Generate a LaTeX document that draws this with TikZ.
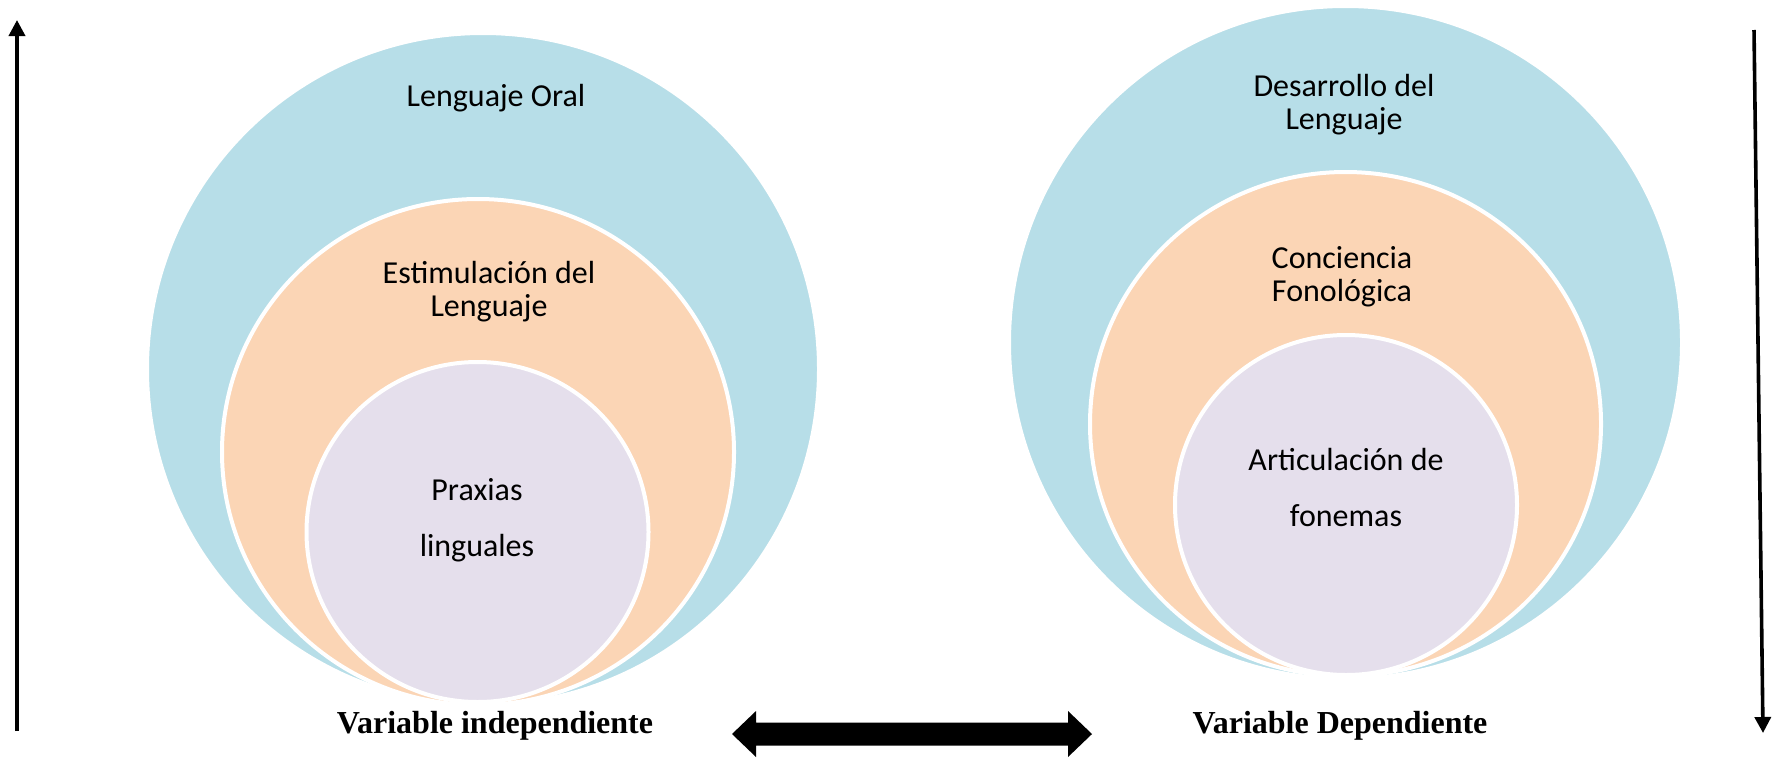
\documentclass[tikz,border=0pt]{standalone}
\usepackage{fontspec}
\setmainfont{Carlito}
\newfontfamily\tnr{Liberation Serif}
\usetikzlibrary{arrows.meta,shapes.geometric}
\definecolor{cblue}{HTML}{B7DEE8}
\definecolor{corange}{HTML}{FBD5B5}
\definecolor{cpurple}{HTML}{E5DFEC}
\begin{document}
\begin{tikzpicture}[x=0.5pt,y=-0.5pt,
  ring/.style={ellipse, draw=white, line width=2pt, inner sep=0pt},
  lbl/.style={font=\fontsize{16}{16.5}\selectfont, align=center, inner sep=0pt},
  lblwide/.style={font=\fontsize{16}{28}\selectfont, align=center, inner sep=0pt},
  var/.style={font=\tnr\bfseries\fontsize{16}{19}\selectfont, inner sep=0pt},
  vline/.style={line width=1.8pt, -{Triangle[length=8pt,width=8pt]}}]
\useasboundingbox (0,0) rectangle (1775,760);
% left group
\node[ring, fill=cblue,   minimum width=336pt, minimum height=336pt] (Lo) at (483,369) {};
\node[ring, fill=corange, minimum width=256pt, minimum height=253pt] (Lm) at (478,452) {};
\node[ring, fill=cpurple, minimum width=171pt, minimum height=170pt] (Li) at (477.5,532) {};
\node[lbl] (Lot) at (496,98) {Lenguaje Oral};
\node[lbl] (Lmt) at (489,292) {Estimulación del\\Lenguaje};
\node[lblwide] (Lit) at (477,520) {Praxias\\linguales};
% right group
\node[ring, fill=cblue,   minimum width=336.5pt, minimum height=336.5pt] (Ro) at (1345.5,342.5) {};
\node[ring, fill=corange, minimum width=255.5pt, minimum height=252pt] (Rm) at (1345.5,424) {};
\node[ring, fill=cpurple, minimum width=171pt, minimum height=170pt] (Ri) at (1346,505) {};
\node[lbl] (Rot) at (1344,105) {Desarrollo del\\Lenguaje};
\node[lbl] (Rmt) at (1342,277) {Conciencia\\Fonológica};
\node[lblwide] (Rit) at (1346,487) {Articulación de\\fonemas};
% bottom labels
\node[var] (vi) at (495,726) {Variable independiente};
\node[var] (vd) at (1340,726) {Variable Dependiente};
% double arrow
\coordinate (dl) at (732,734);
\coordinate (dr) at (1092,734);
\fill[black] (dl) -- ++(24,-23) -- ++(0,11.5) -- ++(312,0) -- ++(0,-11.5) -- (dr)
  -- ++(-24,23) -- ++(0,-11.5) -- ++(-312,0) -- ++(0,11.5) -- cycle;
% vertical arrows
\coordinate (la0) at (17,731);
\coordinate (la1) at (17,20);
\draw[vline] (la0) -- (la1);
\coordinate (ra0) at (1754,30);
\coordinate (ra1) at (1763,733);
\draw[vline] (ra0) -- (ra1);
\end{tikzpicture}
\end{document}
